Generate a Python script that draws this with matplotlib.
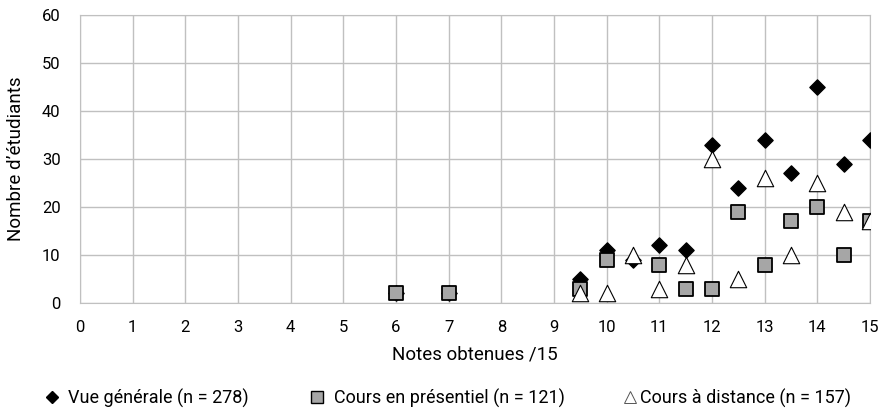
import matplotlib
matplotlib.use("Agg")
import matplotlib.pyplot as plt
from matplotlib.lines import Line2D

plt.rcParams['font.family'] = ['Roboto', 'DejaVu Sans']

x_vue = [6, 7, 9.5, 10, 10.5, 11, 11.5, 12, 12.5, 13, 13.5, 14, 14.5, 15]
y_vue = [2, 2, 5, 11, 9, 12, 11, 33, 24, 34, 27, 45, 29, 34]
x_pres = [6, 7, 9.5, 10, 11, 11.5, 12, 12.5, 13, 13.5, 14, 14.5, 15]
y_pres = [2, 2, 3, 9, 8, 3, 3, 19, 8, 17, 20, 10, 17]
x_dist = [9.5, 10, 10.5, 11, 11.5, 12, 12.5, 13, 13.5, 14, 14.5, 15]
y_dist = [2, 2, 10, 3, 8, 30, 5, 26, 10, 25, 19, 17]
labels = ["Vue générale (n = 278)", "Cours en présentiel (n = 121)", "Cours à distance (n = 157)"]

W, H = 880, 409
fig = plt.figure(figsize=(8.8, 4.09), dpi=100)
ax = fig.add_axes([80/W, 1-303/H, 790/W, 288/H])

ax.scatter(x_vue, y_vue, marker='D', s=60, color='black', zorder=3)
ax.scatter(x_pres, y_pres, marker='s', s=115, facecolor='#a6a6a6', edgecolor='black', linewidth=1.3, zorder=4)
ax.scatter(x_dist, y_dist, marker='^', s=140, facecolor='white', edgecolor='black', linewidth=0.8, zorder=5)

ax.set_xlim(0, 15)
ax.set_ylim(0, 60)
ax.set_xticks(range(0, 16))
ax.set_yticks(range(0, 61, 10))
ax.grid(True, color='#c0c0c0', linewidth=1)
ax.set_axisbelow(True)
for s in ax.spines.values():
    s.set_color('#c0c0c0')
ax.tick_params(length=0, labelsize=12)
ax.tick_params(axis='x', pad=12)
ax.tick_params(axis='y', pad=14)
ax.set_xlabel("Notes obtenues /15", fontsize=13.5, labelpad=8)
ax.set_ylabel("Nombre d’étudiants", fontsize=13.5, labelpad=12)

handles = [
    Line2D([], [], linestyle='none', marker='D', markersize=6, color='black'),
    Line2D([], [], linestyle='none', marker='s', markersize=9, markerfacecolor='#a6a6a6', markeredgecolor='black', markeredgewidth=1.0),
    Line2D([], [], linestyle='none', marker='^', markersize=9, markerfacecolor='white', markeredgecolor='#555555', markeredgewidth=0.7),
]
marker_x = [55, 320, 633]
pads = [0.45, 0.55, 0.15]
for h, lab, mx, pd in zip(handles, labels, marker_x, pads):
    fig.legend(handles=[h], labels=[lab], loc='center left',
               bbox_to_anchor=((mx - 10) / W, 1 - 398 / H), frameon=False,
               fontsize=13, handlelength=0.8, handletextpad=pd, borderpad=0, borderaxespad=0)

fig.savefig("out.png", dpi=100)
